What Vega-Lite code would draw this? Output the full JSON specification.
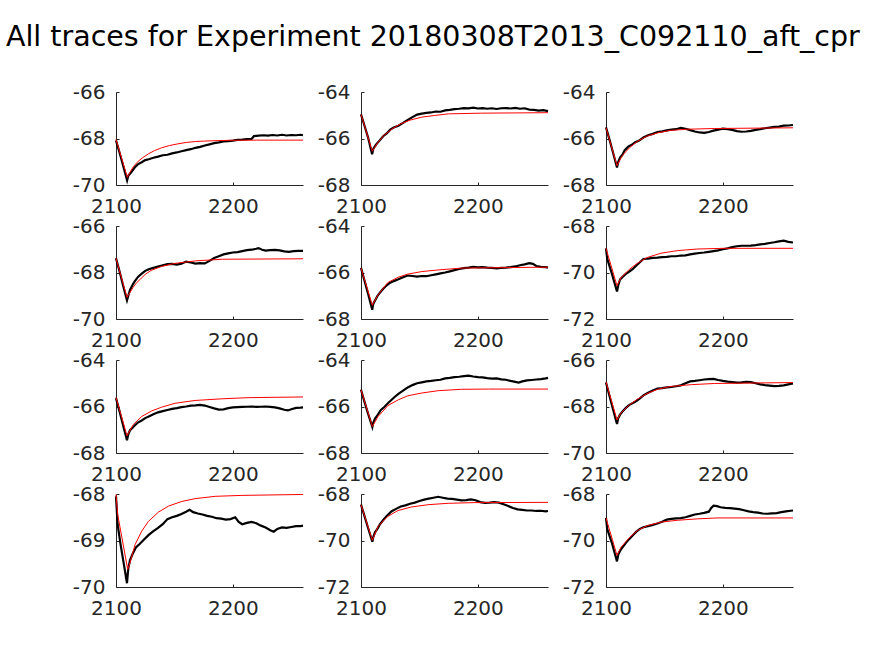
{
"$schema": "https://vega.github.io/schema/vega-lite/v6.json",
"padding": {"left": 5, "top": 22, "right": 5, "bottom": 5},
"background": "white",
"title": {"text": "All traces for Experiment 20180308T2013_C092110_aft_cpr", "font": "DejaVu Sans", "fontSize": 28.5, "fontWeight": "normal", "color": "black", "anchor": "middle", "dx": -2, "offset": 31},
"config": {
 "view": {"stroke": null},
 "axis": {"grid": false, "title": null, "domainColor": "#262626", "domainWidth": 1, "tickColor": "#262626", "tickSize": -3, "labelColor": "#262626", "labelFont": "DejaVu Sans", "labelFontSize": 20, "labelFlush": false, "labelExpr": "'' + datum.value"},
 "axisX": {"labelPadding": 14},
 "axisY": {"labelPadding": 14}
},
"bounds": "flush",
"columns": 3,
"spacing": {"row": 41, "column": 58},
"datasets": {
"b1": [{"x":2100,"y":-68.08},{"x":2103,"y":-68.6},{"x":2106,"y":-69.15},{"x":2109.5,"y":-69.8},{"x":2110.5,"y":-69.6},{"x":2113,"y":-69.45},{"x":2116,"y":-69.25},{"x":2119,"y":-69.1},{"x":2122,"y":-69.02},{"x":2125,"y":-68.93},{"x":2128,"y":-68.89},{"x":2132,"y":-68.83},{"x":2136,"y":-68.78},{"x":2140,"y":-68.72},{"x":2144,"y":-68.7},{"x":2148,"y":-68.64},{"x":2152,"y":-68.6},{"x":2156,"y":-68.55},{"x":2160,"y":-68.5},{"x":2164,"y":-68.46},{"x":2168,"y":-68.4},{"x":2172,"y":-68.36},{"x":2176,"y":-68.3},{"x":2180,"y":-68.25},{"x":2184,"y":-68.2},{"x":2188,"y":-68.17},{"x":2192,"y":-68.13},{"x":2196,"y":-68.11},{"x":2200,"y":-68.09},{"x":2204,"y":-68.06},{"x":2208,"y":-68.05},{"x":2212,"y":-68.03},{"x":2216,"y":-68.02},{"x":2218,"y":-67.9},{"x":2222,"y":-67.88},{"x":2226,"y":-67.86},{"x":2230,"y":-67.88},{"x":2234,"y":-67.85},{"x":2238,"y":-67.87},{"x":2242,"y":-67.84},{"x":2246,"y":-67.87},{"x":2250,"y":-67.85},{"x":2254,"y":-67.86},{"x":2258,"y":-67.84},{"x":2260,"y":-67.86}],
"r1": [{"x":2100,"y":-68.04},{"x":2109.7,"y":-69.67},{"x":2112,"y":-69.45},{"x":2115,"y":-69.2},{"x":2119,"y":-68.98},{"x":2123,"y":-68.82},{"x":2128,"y":-68.65},{"x":2133,"y":-68.52},{"x":2139,"y":-68.4},{"x":2146,"y":-68.3},{"x":2153,"y":-68.23},{"x":2160,"y":-68.17},{"x":2168,"y":-68.13},{"x":2176,"y":-68.11},{"x":2182,"y":-68.1},{"x":2196,"y":-68.08},{"x":2220,"y":-68.07},{"x":2260,"y":-68.07}],
"b2": [{"x":2100,"y":-64.96},{"x":2103,"y":-65.45},{"x":2106,"y":-65.95},{"x":2109.5,"y":-66.68},{"x":2110.5,"y":-66.45},{"x":2113,"y":-66.25},{"x":2116,"y":-66.08},{"x":2119,"y":-65.9},{"x":2122,"y":-65.78},{"x":2125,"y":-65.62},{"x":2128,"y":-65.53},{"x":2132,"y":-65.45},{"x":2136,"y":-65.33},{"x":2140,"y":-65.2},{"x":2144,"y":-65.08},{"x":2148,"y":-64.97},{"x":2152,"y":-64.93},{"x":2156,"y":-64.9},{"x":2160,"y":-64.88},{"x":2164,"y":-64.84},{"x":2168,"y":-64.85},{"x":2172,"y":-64.79},{"x":2176,"y":-64.77},{"x":2180,"y":-64.74},{"x":2184,"y":-64.72},{"x":2188,"y":-64.69},{"x":2192,"y":-64.7},{"x":2196,"y":-64.67},{"x":2200,"y":-64.71},{"x":2204,"y":-64.69},{"x":2208,"y":-64.72},{"x":2212,"y":-64.7},{"x":2216,"y":-64.73},{"x":2220,"y":-64.7},{"x":2224,"y":-64.69},{"x":2228,"y":-64.71},{"x":2232,"y":-64.68},{"x":2236,"y":-64.72},{"x":2240,"y":-64.7},{"x":2244,"y":-64.76},{"x":2248,"y":-64.77},{"x":2252,"y":-64.8},{"x":2256,"y":-64.78},{"x":2260,"y":-64.82}],
"r2": [{"x":2100,"y":-64.96},{"x":2109.7,"y":-66.55},{"x":2114.6,"y":-66.16},{"x":2120,"y":-65.85},{"x":2127,"y":-65.57},{"x":2134,"y":-65.37},{"x":2142,"y":-65.21},{"x":2152,"y":-65.08},{"x":2163,"y":-65.01},{"x":2175,"y":-64.94},{"x":2203,"y":-64.91},{"x":2260,"y":-64.89}],
"b3": [{"x":2100,"y":-65.52},{"x":2103,"y":-66.05},{"x":2106,"y":-66.6},{"x":2109.4,"y":-67.25},{"x":2110.5,"y":-67.0},{"x":2112,"y":-66.82},{"x":2114,"y":-66.7},{"x":2116,"y":-66.5},{"x":2119,"y":-66.35},{"x":2122,"y":-66.27},{"x":2125,"y":-66.16},{"x":2128,"y":-66.1},{"x":2132,"y":-65.96},{"x":2136,"y":-65.86},{"x":2140,"y":-65.8},{"x":2144,"y":-65.72},{"x":2148,"y":-65.69},{"x":2152,"y":-65.65},{"x":2156,"y":-65.62},{"x":2160,"y":-65.6},{"x":2164,"y":-65.54},{"x":2168,"y":-65.58},{"x":2172,"y":-65.64},{"x":2176,"y":-65.7},{"x":2180,"y":-65.74},{"x":2184,"y":-65.76},{"x":2188,"y":-65.72},{"x":2192,"y":-65.66},{"x":2196,"y":-65.62},{"x":2200,"y":-65.58},{"x":2204,"y":-65.6},{"x":2208,"y":-65.63},{"x":2212,"y":-65.68},{"x":2216,"y":-65.71},{"x":2220,"y":-65.7},{"x":2224,"y":-65.67},{"x":2228,"y":-65.63},{"x":2232,"y":-65.6},{"x":2236,"y":-65.56},{"x":2240,"y":-65.53},{"x":2244,"y":-65.5},{"x":2248,"y":-65.49},{"x":2252,"y":-65.45},{"x":2256,"y":-65.44},{"x":2260,"y":-65.42}],
"r3": [{"x":2100,"y":-65.54},{"x":2109.4,"y":-67.17},{"x":2114,"y":-66.73},{"x":2120,"y":-66.4},{"x":2127,"y":-66.12},{"x":2135,"y":-65.9},{"x":2144,"y":-65.76},{"x":2155,"y":-65.65},{"x":2170,"y":-65.6},{"x":2193,"y":-65.57},{"x":2260,"y":-65.54}],
"b4": [{"x":2100,"y":-67.39},{"x":2103,"y":-67.95},{"x":2106,"y":-68.55},{"x":2109.4,"y":-69.2},{"x":2110.5,"y":-69.0},{"x":2112,"y":-68.75},{"x":2114,"y":-68.55},{"x":2116,"y":-68.38},{"x":2119,"y":-68.18},{"x":2122,"y":-68.05},{"x":2125,"y":-67.93},{"x":2128,"y":-67.86},{"x":2132,"y":-67.8},{"x":2136,"y":-67.74},{"x":2140,"y":-67.69},{"x":2144,"y":-67.64},{"x":2148,"y":-67.63},{"x":2152,"y":-67.66},{"x":2156,"y":-67.62},{"x":2160,"y":-67.53},{"x":2164,"y":-67.57},{"x":2168,"y":-67.62},{"x":2172,"y":-67.6},{"x":2176,"y":-67.61},{"x":2180,"y":-67.5},{"x":2184,"y":-67.38},{"x":2188,"y":-67.3},{"x":2192,"y":-67.22},{"x":2196,"y":-67.18},{"x":2200,"y":-67.14},{"x":2204,"y":-67.12},{"x":2208,"y":-67.08},{"x":2212,"y":-67.04},{"x":2216,"y":-67.02},{"x":2220,"y":-66.98},{"x":2222,"y":-66.95},{"x":2225,"y":-67.02},{"x":2228,"y":-67.06},{"x":2232,"y":-67.04},{"x":2236,"y":-67.03},{"x":2240,"y":-67.05},{"x":2244,"y":-67.09},{"x":2248,"y":-67.11},{"x":2252,"y":-67.08},{"x":2256,"y":-67.07},{"x":2260,"y":-67.07}],
"r4": [{"x":2100,"y":-67.39},{"x":2109.4,"y":-69.07},{"x":2114.6,"y":-68.64},{"x":2117,"y":-68.48},{"x":2121.7,"y":-68.24},{"x":2125,"y":-68.08},{"x":2130,"y":-67.91},{"x":2139,"y":-67.74},{"x":2150,"y":-67.61},{"x":2168,"y":-67.5},{"x":2191,"y":-67.43},{"x":2260,"y":-67.41}],
"b5": [{"x":2100,"y":-65.8},{"x":2103,"y":-66.35},{"x":2106,"y":-66.9},{"x":2109.6,"y":-67.6},{"x":2110.5,"y":-67.35},{"x":2112,"y":-67.2},{"x":2114,"y":-67.02},{"x":2116,"y":-66.88},{"x":2119,"y":-66.7},{"x":2122,"y":-66.55},{"x":2125,"y":-66.44},{"x":2128,"y":-66.37},{"x":2132,"y":-66.29},{"x":2136,"y":-66.2},{"x":2140,"y":-66.13},{"x":2144,"y":-66.15},{"x":2148,"y":-66.18},{"x":2152,"y":-66.15},{"x":2156,"y":-66.16},{"x":2160,"y":-66.12},{"x":2164,"y":-66.08},{"x":2168,"y":-66.04},{"x":2172,"y":-66.0},{"x":2176,"y":-65.95},{"x":2180,"y":-65.9},{"x":2184,"y":-65.85},{"x":2188,"y":-65.81},{"x":2192,"y":-65.79},{"x":2196,"y":-65.76},{"x":2200,"y":-65.78},{"x":2204,"y":-65.77},{"x":2208,"y":-65.79},{"x":2212,"y":-65.8},{"x":2216,"y":-65.82},{"x":2220,"y":-65.8},{"x":2224,"y":-65.79},{"x":2228,"y":-65.77},{"x":2232,"y":-65.74},{"x":2236,"y":-65.69},{"x":2240,"y":-65.65},{"x":2244,"y":-65.6},{"x":2247,"y":-65.63},{"x":2250,"y":-65.72},{"x":2254,"y":-65.76},{"x":2258,"y":-65.77},{"x":2260,"y":-65.79}],
"r5": [{"x":2100,"y":-65.81},{"x":2109.7,"y":-67.41},{"x":2114.6,"y":-66.96},{"x":2123,"y":-66.43},{"x":2132,"y":-66.2},{"x":2140,"y":-66.07},{"x":2152,"y":-65.96},{"x":2166,"y":-65.89},{"x":2186,"y":-65.81},{"x":2260,"y":-65.77}],
"b6": [{"x":2100,"y":-68.96},{"x":2101,"y":-69.4},{"x":2105,"y":-70.05},{"x":2109.4,"y":-70.82},{"x":2110.5,"y":-70.55},{"x":2112,"y":-70.3},{"x":2114,"y":-70.2},{"x":2117,"y":-70.06},{"x":2120,"y":-69.96},{"x":2123,"y":-69.85},{"x":2126,"y":-69.7},{"x":2129,"y":-69.56},{"x":2132,"y":-69.42},{"x":2136,"y":-69.4},{"x":2140,"y":-69.37},{"x":2144,"y":-69.36},{"x":2148,"y":-69.34},{"x":2152,"y":-69.33},{"x":2156,"y":-69.3},{"x":2160,"y":-69.3},{"x":2164,"y":-69.27},{"x":2168,"y":-69.26},{"x":2172,"y":-69.22},{"x":2176,"y":-69.19},{"x":2180,"y":-69.16},{"x":2184,"y":-69.14},{"x":2188,"y":-69.11},{"x":2192,"y":-69.08},{"x":2196,"y":-69.05},{"x":2200,"y":-69.0},{"x":2204,"y":-68.96},{"x":2208,"y":-68.91},{"x":2212,"y":-68.87},{"x":2216,"y":-68.85},{"x":2220,"y":-68.85},{"x":2224,"y":-68.84},{"x":2228,"y":-68.82},{"x":2232,"y":-68.79},{"x":2236,"y":-68.77},{"x":2240,"y":-68.73},{"x":2244,"y":-68.7},{"x":2248,"y":-68.66},{"x":2252,"y":-68.63},{"x":2256,"y":-68.68},{"x":2260,"y":-68.71}],
"r6": [{"x":2100,"y":-68.96},{"x":2109.4,"y":-70.57},{"x":2112.6,"y":-70.24},{"x":2120,"y":-69.86},{"x":2127,"y":-69.6},{"x":2135,"y":-69.36},{"x":2147,"y":-69.17},{"x":2161,"y":-69.06},{"x":2178,"y":-68.99},{"x":2201,"y":-68.96},{"x":2260,"y":-68.96}],
"b7": [{"x":2100,"y":-65.64},{"x":2103,"y":-66.2},{"x":2106,"y":-66.8},{"x":2109.4,"y":-67.45},{"x":2110.5,"y":-67.2},{"x":2112,"y":-67.02},{"x":2114,"y":-66.92},{"x":2116,"y":-66.82},{"x":2119,"y":-66.68},{"x":2122,"y":-66.6},{"x":2125,"y":-66.5},{"x":2128,"y":-66.43},{"x":2132,"y":-66.33},{"x":2136,"y":-66.25},{"x":2140,"y":-66.2},{"x":2144,"y":-66.15},{"x":2148,"y":-66.1},{"x":2152,"y":-66.07},{"x":2156,"y":-66.03},{"x":2160,"y":-66.0},{"x":2164,"y":-65.96},{"x":2168,"y":-65.95},{"x":2172,"y":-65.93},{"x":2176,"y":-65.96},{"x":2180,"y":-66.02},{"x":2184,"y":-66.08},{"x":2188,"y":-66.13},{"x":2192,"y":-66.12},{"x":2196,"y":-66.07},{"x":2200,"y":-66.04},{"x":2204,"y":-66.03},{"x":2208,"y":-66.02},{"x":2212,"y":-66.01},{"x":2216,"y":-66.0},{"x":2220,"y":-66.02},{"x":2224,"y":-66.01},{"x":2228,"y":-66.0},{"x":2232,"y":-66.02},{"x":2236,"y":-66.04},{"x":2240,"y":-66.08},{"x":2244,"y":-66.14},{"x":2247,"y":-66.17},{"x":2250,"y":-66.12},{"x":2254,"y":-66.06},{"x":2258,"y":-66.05},{"x":2260,"y":-66.04}],
"r7": [{"x":2100,"y":-65.61},{"x":2109.4,"y":-67.26},{"x":2114.9,"y":-66.77},{"x":2122,"y":-66.43},{"x":2130.6,"y":-66.19},{"x":2139,"y":-66.03},{"x":2150.6,"y":-65.86},{"x":2167.7,"y":-65.74},{"x":2190.6,"y":-65.67},{"x":2213,"y":-65.62},{"x":2260,"y":-65.59}],
"b8": [{"x":2100,"y":-65.28},{"x":2103,"y":-65.8},{"x":2106,"y":-66.3},{"x":2109.7,"y":-66.88},{"x":2110.5,"y":-66.7},{"x":2112,"y":-66.52},{"x":2114,"y":-66.38},{"x":2117,"y":-66.15},{"x":2120,"y":-66.02},{"x":2123,"y":-65.86},{"x":2126,"y":-65.72},{"x":2129,"y":-65.58},{"x":2132,"y":-65.46},{"x":2136,"y":-65.32},{"x":2140,"y":-65.18},{"x":2144,"y":-65.08},{"x":2148,"y":-65.0},{"x":2152,"y":-64.96},{"x":2156,"y":-64.92},{"x":2160,"y":-64.9},{"x":2164,"y":-64.87},{"x":2168,"y":-64.85},{"x":2172,"y":-64.79},{"x":2176,"y":-64.77},{"x":2180,"y":-64.74},{"x":2184,"y":-64.72},{"x":2188,"y":-64.69},{"x":2192,"y":-64.67},{"x":2196,"y":-64.71},{"x":2200,"y":-64.74},{"x":2204,"y":-64.75},{"x":2208,"y":-64.78},{"x":2212,"y":-64.8},{"x":2216,"y":-64.79},{"x":2220,"y":-64.83},{"x":2224,"y":-64.85},{"x":2228,"y":-64.9},{"x":2232,"y":-64.94},{"x":2235,"y":-64.97},{"x":2238,"y":-64.92},{"x":2242,"y":-64.88},{"x":2246,"y":-64.86},{"x":2250,"y":-64.84},{"x":2254,"y":-64.82},{"x":2258,"y":-64.79},{"x":2260,"y":-64.77}],
"r8": [{"x":2100,"y":-65.28},{"x":2109.7,"y":-66.86},{"x":2114.6,"y":-66.43},{"x":2123,"y":-65.96},{"x":2132,"y":-65.71},{"x":2140,"y":-65.54},{"x":2152,"y":-65.42},{"x":2166,"y":-65.32},{"x":2186,"y":-65.26},{"x":2209,"y":-65.25},{"x":2260,"y":-65.25}],
"b9": [{"x":2100,"y":-66.97},{"x":2103,"y":-67.55},{"x":2106,"y":-68.12},{"x":2109.4,"y":-68.75},{"x":2110.5,"y":-68.5},{"x":2112,"y":-68.35},{"x":2114,"y":-68.22},{"x":2117,"y":-68.06},{"x":2120,"y":-67.93},{"x":2123,"y":-67.85},{"x":2126,"y":-67.77},{"x":2129,"y":-67.65},{"x":2132,"y":-67.52},{"x":2136,"y":-67.41},{"x":2140,"y":-67.31},{"x":2144,"y":-67.23},{"x":2148,"y":-67.21},{"x":2152,"y":-67.18},{"x":2156,"y":-67.16},{"x":2160,"y":-67.13},{"x":2164,"y":-67.09},{"x":2168,"y":-67.0},{"x":2172,"y":-66.92},{"x":2176,"y":-66.9},{"x":2180,"y":-66.87},{"x":2184,"y":-66.84},{"x":2188,"y":-66.82},{"x":2192,"y":-66.81},{"x":2196,"y":-66.86},{"x":2200,"y":-66.9},{"x":2204,"y":-66.93},{"x":2208,"y":-66.95},{"x":2212,"y":-66.97},{"x":2216,"y":-66.96},{"x":2220,"y":-66.94},{"x":2224,"y":-66.95},{"x":2228,"y":-67.0},{"x":2232,"y":-67.05},{"x":2236,"y":-67.08},{"x":2240,"y":-67.1},{"x":2244,"y":-67.12},{"x":2248,"y":-67.11},{"x":2252,"y":-67.09},{"x":2256,"y":-67.05},{"x":2260,"y":-67.01}],
"r9": [{"x":2100,"y":-66.94},{"x":2109.4,"y":-68.58},{"x":2112.6,"y":-68.29},{"x":2120,"y":-67.93},{"x":2127,"y":-67.68},{"x":2135,"y":-67.45},{"x":2144,"y":-67.26},{"x":2155,"y":-67.14},{"x":2173,"y":-67.06},{"x":2193,"y":-67.01},{"x":2260,"y":-66.97}],
"b10": [{"x":2100,"y":-68.05},{"x":2101.4,"y":-68.66},{"x":2104,"y":-69.1},{"x":2107,"y":-69.55},{"x":2109.4,"y":-69.92},{"x":2110.5,"y":-69.6},{"x":2112,"y":-69.42},{"x":2114,"y":-69.3},{"x":2117,"y":-69.15},{"x":2120,"y":-69.08},{"x":2124,"y":-68.98},{"x":2128,"y":-68.88},{"x":2132,"y":-68.8},{"x":2136,"y":-68.73},{"x":2140,"y":-68.65},{"x":2144,"y":-68.54},{"x":2148,"y":-68.5},{"x":2152,"y":-68.47},{"x":2156,"y":-68.43},{"x":2160,"y":-68.38},{"x":2163,"y":-68.34},{"x":2166,"y":-68.39},{"x":2170,"y":-68.42},{"x":2174,"y":-68.44},{"x":2178,"y":-68.47},{"x":2182,"y":-68.49},{"x":2186,"y":-68.52},{"x":2190,"y":-68.53},{"x":2194,"y":-68.55},{"x":2198,"y":-68.54},{"x":2202,"y":-68.5},{"x":2205,"y":-68.6},{"x":2208,"y":-68.65},{"x":2212,"y":-68.62},{"x":2216,"y":-68.6},{"x":2220,"y":-68.63},{"x":2224,"y":-68.68},{"x":2228,"y":-68.72},{"x":2232,"y":-68.78},{"x":2235,"y":-68.81},{"x":2238,"y":-68.75},{"x":2242,"y":-68.72},{"x":2246,"y":-68.73},{"x":2250,"y":-68.71},{"x":2254,"y":-68.69},{"x":2258,"y":-68.69},{"x":2260,"y":-68.68}],
"r10": [{"x":2100,"y":-68.01},{"x":2101.5,"y":-68.45},{"x":2110,"y":-69.62},{"x":2112,"y":-69.48},{"x":2116.3,"y":-69.09},{"x":2122,"y":-68.8},{"x":2127.7,"y":-68.59},{"x":2136.3,"y":-68.39},{"x":2144.9,"y":-68.26},{"x":2156.3,"y":-68.16},{"x":2167.7,"y":-68.1},{"x":2184.9,"y":-68.05},{"x":2207.7,"y":-68.03},{"x":2260,"y":-68.01}],
"b11": [{"x":2100,"y":-68.46},{"x":2103,"y":-68.95},{"x":2106,"y":-69.45},{"x":2109.7,"y":-70.05},{"x":2110.5,"y":-69.85},{"x":2112,"y":-69.65},{"x":2114,"y":-69.5},{"x":2116,"y":-69.32},{"x":2119,"y":-69.12},{"x":2122,"y":-68.95},{"x":2126,"y":-68.75},{"x":2130,"y":-68.64},{"x":2134,"y":-68.54},{"x":2138,"y":-68.49},{"x":2142,"y":-68.42},{"x":2146,"y":-68.37},{"x":2150,"y":-68.3},{"x":2154,"y":-68.24},{"x":2158,"y":-68.2},{"x":2162,"y":-68.16},{"x":2166,"y":-68.12},{"x":2170,"y":-68.16},{"x":2174,"y":-68.2},{"x":2178,"y":-68.21},{"x":2182,"y":-68.24},{"x":2186,"y":-68.27},{"x":2190,"y":-68.26},{"x":2194,"y":-68.23},{"x":2198,"y":-68.27},{"x":2202,"y":-68.35},{"x":2206,"y":-68.38},{"x":2210,"y":-68.37},{"x":2214,"y":-68.35},{"x":2218,"y":-68.37},{"x":2222,"y":-68.44},{"x":2226,"y":-68.52},{"x":2230,"y":-68.6},{"x":2234,"y":-68.66},{"x":2238,"y":-68.68},{"x":2242,"y":-68.71},{"x":2246,"y":-68.71},{"x":2250,"y":-68.73},{"x":2254,"y":-68.72},{"x":2258,"y":-68.75},{"x":2260,"y":-68.73}],
"r11": [{"x":2100,"y":-68.46},{"x":2109.7,"y":-69.99},{"x":2114.6,"y":-69.39},{"x":2123,"y":-68.96},{"x":2131.7,"y":-68.71},{"x":2143,"y":-68.56},{"x":2157.4,"y":-68.46},{"x":2174.6,"y":-68.4},{"x":2197.4,"y":-68.37},{"x":2260,"y":-68.36}],
"b12": [{"x":2100,"y":-69.03},{"x":2101,"y":-69.5},{"x":2105,"y":-70.1},{"x":2109.4,"y":-70.9},{"x":2110.5,"y":-70.6},{"x":2112,"y":-70.45},{"x":2114,"y":-70.3},{"x":2117,"y":-70.1},{"x":2120,"y":-69.93},{"x":2123,"y":-69.77},{"x":2126,"y":-69.62},{"x":2129,"y":-69.5},{"x":2132,"y":-69.43},{"x":2136,"y":-69.38},{"x":2140,"y":-69.33},{"x":2144,"y":-69.27},{"x":2148,"y":-69.19},{"x":2152,"y":-69.1},{"x":2156,"y":-69.07},{"x":2160,"y":-69.05},{"x":2164,"y":-69.04},{"x":2168,"y":-69.0},{"x":2172,"y":-68.94},{"x":2176,"y":-68.88},{"x":2180,"y":-68.85},{"x":2184,"y":-68.81},{"x":2188,"y":-68.76},{"x":2190,"y":-68.6},{"x":2192,"y":-68.5},{"x":2195,"y":-68.52},{"x":2198,"y":-68.57},{"x":2202,"y":-68.6},{"x":2206,"y":-68.61},{"x":2210,"y":-68.63},{"x":2214,"y":-68.65},{"x":2218,"y":-68.7},{"x":2222,"y":-68.75},{"x":2226,"y":-68.78},{"x":2230,"y":-68.8},{"x":2234,"y":-68.84},{"x":2238,"y":-68.85},{"x":2242,"y":-68.83},{"x":2246,"y":-68.82},{"x":2250,"y":-68.78},{"x":2254,"y":-68.75},{"x":2258,"y":-68.72},{"x":2260,"y":-68.71}],
"r12": [{"x":2100,"y":-69.03},{"x":2109.4,"y":-70.64},{"x":2112.6,"y":-70.31},{"x":2119.7,"y":-69.89},{"x":2127,"y":-69.57},{"x":2135.4,"y":-69.36},{"x":2147,"y":-69.21},{"x":2161,"y":-69.13},{"x":2178,"y":-69.07},{"x":2195,"y":-69.03},{"x":2260,"y":-69.03}]
},
"concat": [
{"width":187,"height":93,"encoding":{"x":{"field":"x","type":"quantitative","scale":{"domain":[2100,2260],"nice":false,"zero":false},"axis":{"values":[2100,2200]}},"y":{"field":"y","type":"quantitative","scale":{"domain":[-70,-66],"nice":false,"zero":false},"axis":{"values":[-70,-68,-66]}}},
 "layer":[{"data":{"name":"b1"},"mark":{"type":"line","color":"black","strokeWidth":2.2}},{"data":{"name":"r1"},"mark":{"type":"line","color":"#ff0000","strokeWidth":1}}]},
{"width":187,"height":93,"encoding":{"x":{"field":"x","type":"quantitative","scale":{"domain":[2100,2260],"nice":false,"zero":false},"axis":{"values":[2100,2200]}},"y":{"field":"y","type":"quantitative","scale":{"domain":[-68,-64],"nice":false,"zero":false},"axis":{"values":[-68,-66,-64]}}},
 "layer":[{"data":{"name":"b2"},"mark":{"type":"line","color":"black","strokeWidth":2.2}},{"data":{"name":"r2"},"mark":{"type":"line","color":"#ff0000","strokeWidth":1}}]},
{"width":187,"height":93,"encoding":{"x":{"field":"x","type":"quantitative","scale":{"domain":[2100,2260],"nice":false,"zero":false},"axis":{"values":[2100,2200]}},"y":{"field":"y","type":"quantitative","scale":{"domain":[-68,-64],"nice":false,"zero":false},"axis":{"values":[-68,-66,-64]}}},
 "layer":[{"data":{"name":"b3"},"mark":{"type":"line","color":"black","strokeWidth":2.2}},{"data":{"name":"r3"},"mark":{"type":"line","color":"#ff0000","strokeWidth":1}}]},
{"width":187,"height":93,"encoding":{"x":{"field":"x","type":"quantitative","scale":{"domain":[2100,2260],"nice":false,"zero":false},"axis":{"values":[2100,2200]}},"y":{"field":"y","type":"quantitative","scale":{"domain":[-70,-66],"nice":false,"zero":false},"axis":{"values":[-70,-68,-66]}}},
 "layer":[{"data":{"name":"b4"},"mark":{"type":"line","color":"black","strokeWidth":2.2}},{"data":{"name":"r4"},"mark":{"type":"line","color":"#ff0000","strokeWidth":1}}]},
{"width":187,"height":93,"encoding":{"x":{"field":"x","type":"quantitative","scale":{"domain":[2100,2260],"nice":false,"zero":false},"axis":{"values":[2100,2200]}},"y":{"field":"y","type":"quantitative","scale":{"domain":[-68,-64],"nice":false,"zero":false},"axis":{"values":[-68,-66,-64]}}},
 "layer":[{"data":{"name":"b5"},"mark":{"type":"line","color":"black","strokeWidth":2.2}},{"data":{"name":"r5"},"mark":{"type":"line","color":"#ff0000","strokeWidth":1}}]},
{"width":187,"height":93,"encoding":{"x":{"field":"x","type":"quantitative","scale":{"domain":[2100,2260],"nice":false,"zero":false},"axis":{"values":[2100,2200]}},"y":{"field":"y","type":"quantitative","scale":{"domain":[-72,-68],"nice":false,"zero":false},"axis":{"values":[-72,-70,-68]}}},
 "layer":[{"data":{"name":"b6"},"mark":{"type":"line","color":"black","strokeWidth":2.2}},{"data":{"name":"r6"},"mark":{"type":"line","color":"#ff0000","strokeWidth":1}}]},
{"width":187,"height":93,"encoding":{"x":{"field":"x","type":"quantitative","scale":{"domain":[2100,2260],"nice":false,"zero":false},"axis":{"values":[2100,2200]}},"y":{"field":"y","type":"quantitative","scale":{"domain":[-68,-64],"nice":false,"zero":false},"axis":{"values":[-68,-66,-64]}}},
 "layer":[{"data":{"name":"b7"},"mark":{"type":"line","color":"black","strokeWidth":2.2}},{"data":{"name":"r7"},"mark":{"type":"line","color":"#ff0000","strokeWidth":1}}]},
{"width":187,"height":93,"encoding":{"x":{"field":"x","type":"quantitative","scale":{"domain":[2100,2260],"nice":false,"zero":false},"axis":{"values":[2100,2200]}},"y":{"field":"y","type":"quantitative","scale":{"domain":[-68,-64],"nice":false,"zero":false},"axis":{"values":[-68,-66,-64]}}},
 "layer":[{"data":{"name":"b8"},"mark":{"type":"line","color":"black","strokeWidth":2.2}},{"data":{"name":"r8"},"mark":{"type":"line","color":"#ff0000","strokeWidth":1}}]},
{"width":187,"height":93,"encoding":{"x":{"field":"x","type":"quantitative","scale":{"domain":[2100,2260],"nice":false,"zero":false},"axis":{"values":[2100,2200]}},"y":{"field":"y","type":"quantitative","scale":{"domain":[-70,-66],"nice":false,"zero":false},"axis":{"values":[-70,-68,-66]}}},
 "layer":[{"data":{"name":"b9"},"mark":{"type":"line","color":"black","strokeWidth":2.2}},{"data":{"name":"r9"},"mark":{"type":"line","color":"#ff0000","strokeWidth":1}}]},
{"width":187,"height":93,"encoding":{"x":{"field":"x","type":"quantitative","scale":{"domain":[2100,2260],"nice":false,"zero":false},"axis":{"values":[2100,2200]}},"y":{"field":"y","type":"quantitative","scale":{"domain":[-70,-68],"nice":false,"zero":false},"axis":{"values":[-70,-69,-68]}}},
 "layer":[{"data":{"name":"b10"},"mark":{"type":"line","color":"black","strokeWidth":2.2}},{"data":{"name":"r10"},"mark":{"type":"line","color":"#ff0000","strokeWidth":1}}]},
{"width":187,"height":93,"encoding":{"x":{"field":"x","type":"quantitative","scale":{"domain":[2100,2260],"nice":false,"zero":false},"axis":{"values":[2100,2200]}},"y":{"field":"y","type":"quantitative","scale":{"domain":[-72,-68],"nice":false,"zero":false},"axis":{"values":[-72,-70,-68]}}},
 "layer":[{"data":{"name":"b11"},"mark":{"type":"line","color":"black","strokeWidth":2.2}},{"data":{"name":"r11"},"mark":{"type":"line","color":"#ff0000","strokeWidth":1}}]},
{"width":187,"height":93,"encoding":{"x":{"field":"x","type":"quantitative","scale":{"domain":[2100,2260],"nice":false,"zero":false},"axis":{"values":[2100,2200]}},"y":{"field":"y","type":"quantitative","scale":{"domain":[-72,-68],"nice":false,"zero":false},"axis":{"values":[-72,-70,-68]}}},
 "layer":[{"data":{"name":"b12"},"mark":{"type":"line","color":"black","strokeWidth":2.2}},{"data":{"name":"r12"},"mark":{"type":"line","color":"#ff0000","strokeWidth":1}}]}
]
}
